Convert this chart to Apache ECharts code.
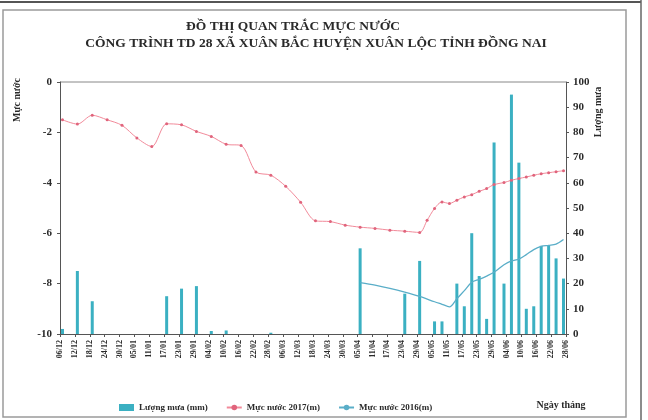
<!DOCTYPE html>
<html>
<head>
<meta charset="utf-8">
<script src="https://cdn.jsdelivr.net/npm/echarts@6/dist/echarts.min.js"></script>
<style>
  html, body { margin: 0; padding: 0; background: #fff; }
  #chart { width: 648px; height: 420px; }
</style>
</head>
<body>
<div id="chart"></div>
<script>
// ---- data ----
const tickLabels = ['06/12','12/12','18/12','24/12','30/12','05/01','11/01','17/01','23/01','29/01',
  '04/02','10/02','16/02','22/02','28/02','06/03','12/03','18/03','24/03','30/03',
  '05/04','11/04','17/04','23/04','29/04','05/05','11/05','17/05','23/05','29/05',
  '04/06','10/06','16/06','22/06','28/06']

const rainDates = ['07/12','13/12','19/12','18/01','24/01','30/01','05/02','11/02','01/03',
  '06/04','24/04','30/04','06/05','09/05','15/05','18/05','21/05','24/05','27/05','30/05',
  '03/06','06/06','09/06','12/06','15/06','18/06','21/06','24/06','27/06']
const rainValues = [2, 25, 13, 15, 18, 19, 1.2, 1.4, 0.5,
  34, 16, 29, 5, 5, 20, 11, 40, 23, 6, 76,
  20, 95, 68, 10, 11, 35, 35, 30, 22]

const level2017Dates = ['07/12','13/12','19/12','25/12','31/12','06/01','12/01','18/01','24/01','30/01',
  '05/02','11/02','17/02','23/02','01/03','07/03','13/03','19/03','25/03','31/03',
  '06/04','12/04','18/04','24/04','30/04','03/05','06/05','09/05','12/05','15/05',
  '18/05','21/05','24/05','27/05','30/05','03/06','06/06','09/06','12/06','15/06',
  '18/06','21/06','24/06','27/06']
const level2017Values = [-1.50, -1.67, -1.32, -1.50, -1.72, -2.22, -2.56, -1.66, -1.70, -1.96,
  -2.16, -2.47, -2.52, -3.57, -3.70, -4.14, -4.77, -5.51, -5.54, -5.68,
  -5.76, -5.81, -5.88, -5.92, -5.97, -5.49, -5.02, -4.76, -4.82, -4.69,
  -4.56, -4.47, -4.34, -4.23, -4.07, -3.99, -3.90, -3.83, -3.77, -3.70,
  -3.64, -3.60, -3.56, -3.52]

const level2016Dates = ['06/04','12/04','18/04','24/04','30/04','06/05','09/05','12/05','15/05','18/05',
  '21/05','24/05','27/05','30/05','03/06','06/06','09/06','12/06','15/06','18/06',
  '21/06','24/06','27/06']
const level2016Values = [-7.96, -8.06, -8.19, -8.34, -8.51, -8.72, -8.82, -8.92, -8.60, -8.28,
  -7.95, -7.83, -7.70, -7.55, -7.25, -7.10, -7.03, -6.85, -6.65, -6.52,
  -6.48, -6.43, -6.25]

// day index counted from 06/12/2016
const START = Date.UTC(2016, 11, 6)
function dayOf(s) {
  let p = s.split('/')
  let m = parseInt(p[1], 10)
  let y = m >= 12 ? 2016 : 2017
  return Math.round((Date.UTC(y, m - 1, parseInt(p[0], 10)) - START) / 86400000)
}
function pairs(dates, values) {
  return dates.map(function (d, i) { return [dayOf(d), values[i]] })
}

const serif = '"Liberation Serif", "DejaVu Serif", serif'
const ink = '#2a2a2a'

let chart = echarts.init(document.getElementById('chart'))
chart.setOption({
  backgroundColor: '#fff',
  animation: false,
  textStyle: { fontFamily: serif },
  grid: { left: 60, right: 82, top: 82, bottom: 86 },
  legend: {
    left: 114, top: 398,
    itemWidth: 15, itemHeight: 7, itemGap: 18,
    textStyle: { fontFamily: serif, fontWeight: 'bold', fontSize: 9, color: ink },
    data: [
      { name: 'Lượng mưa (mm)', icon: 'rect' },
      { name: 'Mực nước 2017(m)' },
      { name: 'Mực nước 2016(m)' }
    ]
  },
  xAxis: {
    type: 'value', min: 0, max: 204, interval: 6,
    axisLine: { onZero: false, lineStyle: { color: '#555' } },
    axisTick: { show: true, length: 3, lineStyle: { color: '#555' } },
    splitLine: { show: false },
    axisLabel: {
      rotate: 90, fontSize: 8, fontWeight: 'bold', color: ink, margin: 6,
      formatter: function (v) { return tickLabels[Math.round(v / 6)] || '' }
    }
  },
  yAxis: [
    {
      type: 'value', min: -10, max: 0, interval: 2,
      axisLine: { show: true, lineStyle: { color: '#555' } },
      axisTick: { show: true, length: 3, lineStyle: { color: '#555' } },
      splitLine: { show: false },
      axisLabel: { fontSize: 11, fontWeight: 'bold', color: ink, margin: 8 }
    },
    {
      type: 'value', min: 0, max: 100, interval: 10, position: 'right',
      axisLine: { show: true, lineStyle: { color: '#555' } },
      axisTick: { show: true, length: 3, lineStyle: { color: '#555' } },
      splitLine: { show: false },
      axisLabel: { fontSize: 11, fontWeight: 'bold', color: ink, margin: 7 }
    }
  ],
  series: [
    {
      name: 'Lượng mưa (mm)', type: 'bar', yAxisIndex: 1, barWidth: 3,
      itemStyle: { color: '#3bb0c2' },
      data: pairs(rainDates, rainValues)
    },
    {
      name: 'Mực nước 2017(m)', type: 'line', yAxisIndex: 0, smooth: 0.3,
      symbol: 'circle', symbolSize: 3,
      lineStyle: { color: '#f28a9a', width: 1 },
      itemStyle: { color: '#e0647c' },
      data: pairs(level2017Dates, level2017Values)
    },
    {
      name: 'Mực nước 2016(m)', type: 'line', yAxisIndex: 0, smooth: 0.3,
      showSymbol: false, symbol: 'none',
      lineStyle: { color: '#5aaec8', width: 1.3 },
      itemStyle: { color: '#5aaec8' },
      data: pairs(level2016Dates, level2016Values)
    }
  ],
  graphic: [
    // scanned page frame
    { type: 'rect', shape: { x: 3, y: 10, width: 623, height: 407 },
      style: { fill: 'none', stroke: '#9a9a9a', lineWidth: 1.5 }, silent: true },
    { type: 'line', shape: { x1: 0, y1: 2, x2: 641, y2: 2 },
      style: { stroke: '#555', lineWidth: 2 }, silent: true },
    { type: 'line', shape: { x1: 641, y1: 0, x2: 641, y2: 420 },
      style: { stroke: '#666', lineWidth: 1.5 }, silent: true },
    // plot top border
    { type: 'line', shape: { x1: 60, y1: 82, x2: 566, y2: 82 },
      style: { stroke: '#888', lineWidth: 1 }, silent: true },
    { type: 'text', x: 293, y: 27,
      style: { text: 'ĐỒ THỊ QUAN TRẮC MỰC NƯỚC', font: 'bold 13.5px ' + serif,
        fill: ink, textAlign: 'center', textVerticalAlign: 'middle' } },
    { type: 'text', x: 316, y: 44,
      style: { text: 'CÔNG TRÌNH TD 28 XÃ XUÂN BẮC HUYỆN XUÂN LỘC TỈNH ĐỒNG NAI', font: 'bold 13.5px ' + serif,
        fill: ink, textAlign: 'center', textVerticalAlign: 'middle' } },
    { type: 'text', x: 17, y: 100, rotation: Math.PI / 2,
      style: { text: 'Mực nước', font: 'bold 10px ' + serif,
        fill: ink, textAlign: 'center', textVerticalAlign: 'middle' } },
    { type: 'text', x: 598, y: 112, rotation: Math.PI / 2,
      style: { text: 'Lượng mưa', font: 'bold 10px ' + serif,
        fill: ink, textAlign: 'center', textVerticalAlign: 'middle' } },
    { type: 'text', x: 561, y: 405,
      style: { text: 'Ngày tháng', font: 'bold 10px ' + serif,
        fill: ink, textAlign: 'center', textVerticalAlign: 'middle' } }
  ]
})
</script>
</body>
</html>
